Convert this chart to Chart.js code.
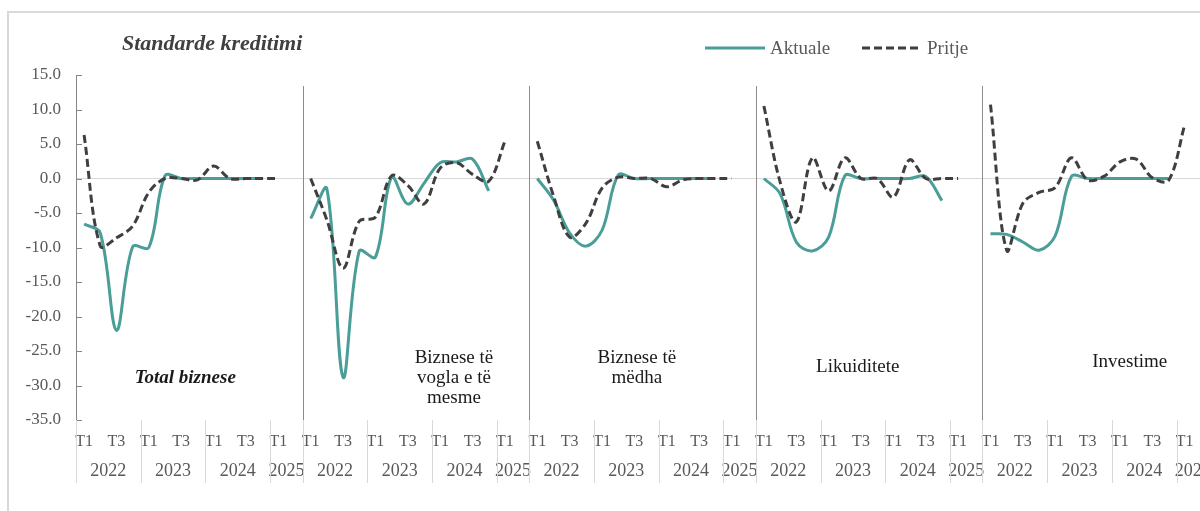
<!DOCTYPE html>
<html><head><meta charset="utf-8">
<script src="https://cdn.jsdelivr.net/npm/chart.js@4.4.1/dist/chart.umd.min.js"></script>
<style>
html,body{margin:0;padding:0;background:#fff;overflow:hidden;width:1200px;height:511px}
#wrap{position:absolute;left:0;top:0;width:1230px;height:511px}
</style></head><body>
<div id="wrap"><canvas id="c"></canvas></div>
<script>
// ---- categories ----
const quarterLabels = ['T1','T2','T3','T4','T1','T2','T3','T4','T1','T2','T3','T4','T1','T2'];
const yearLabels = ['2022','2023','2024','2025'];
const yearSpans = [4,4,4,2];
const panelNames = [['Total biznese'], ['Biznese të','vogla e të','mesme'], ['Biznese të','mëdha'], ['Likuiditete'], ['Investime']];
const seriesNames = ['Aktuale','Pritje'];
const chartTitle = 'Standarde kreditimi';

// ---- values (2022 T1 ...) ----
const aktualeTotal     = [-6.6, -7.9, -22.0, -9.9, -10.0, 0.4, 0, 0, 0, 0, 0, 0];
const pritjeTotal      = [6.3, -9.8, -8.6, -6.9, -2.0, 0.0, 0.0, -0.2, 1.8, 0.0, 0, 0, 0];
const aktualeSME       = [-5.8, -1.5, -28.8, -10.5, -11.4, 0.2, -3.7, -0.7, 2.3, 2.4, 2.8, -1.8];
const pritjeSME        = [0.0, -6.0, -13.0, -6.2, -5.6, 0.4, -1.0, -3.7, 1.5, 2.3, 0.6, -0.4, 5.4];
const aktualeLarge     = [0.0, -3.1, -7.9, -9.8, -7.5, 0.5, 0, 0, 0, 0, 0, 0];
const pritjeLarge      = [5.4, -2.5, -8.5, -6.5, -1.4, 0.2, 0, 0, -1.2, -0.2, 0, 0, 0];
const aktualeLiquidity = [0.0, -2.2, -9.2, -10.5, -8.5, 0.4, 0, 0, 0, 0, 0.3, -3.2];
const pritjeLiquidity  = [10.5, -0.5, -6.3, 3.0, -1.8, 3.0, 0, 0, -2.7, 2.7, 0, 0, 0];
const aktualeInvest    = [-8.0, -8.1, -9.2, -10.4, -8.3, 0.3, 0, 0, 0, 0, 0, 0];
const pritjeInvest     = [10.7, -10.4, -3.6, -2.0, -1.3, 3.0, -0.2, 0.3, 2.4, 2.8, 0.1, -0.3, 7.8];

// ---- y axis ----
const yMin = -35, yMax = 15, yStep = 5;

// ---- build data for the library ----
const aktualePanels = [aktualeTotal, aktualeSME, aktualeLarge, aktualeLiquidity, aktualeInvest];
const pritjePanels  = [pritjeTotal, pritjeSME, pritjeLarge, pritjeLiquidity, pritjeInvest];
const labels = [];
panelNames.forEach(() => labels.push(...quarterLabels));
const padPanel = arr => { const a = arr.slice(); while (a.length < quarterLabels.length) a.push(null); return a; };
const aktualeData = aktualePanels.flatMap(padPanel);
const pritjeData  = pritjePanels.flatMap(padPanel);

// ---- styles / annotation placement ----
const FONT = "'Liberation Serif', 'Times New Roman', serif";
const TEAL = '#4a9e97', DARK = '#3f3f3f', GREY_TXT = '#595959';
const SEP_TOP = 13.4;
const panelLabelPlacement = [ // [category position, value, bold italic]
  {x: 6.25, y: -28.9, bi: true},
  {x: 22.85, y: -28.9, bi: false},
  {x: 34.15, y: -27.4, bi: false},
  {x: 47.8, y: -27.3, bi: false},
  {x: 64.6, y: -26.6, bi: false}
];

const decor = {
  id: 'decor',
  beforeDatasetsDraw(chart) {
    const {ctx, scales: {x, y}, chartArea: a} = chart;
    const cw = (x.right - x.left) / labels.length;
    ctx.save();
    ctx.lineWidth = 1;
    ctx.strokeStyle = '#8c8c8c';
    for (let p = 1; p < panelNames.length; p++) {
      const xx = Math.round(x.left + p * quarterLabels.length * cw) + 0.5;
      ctx.beginPath(); ctx.moveTo(xx, y.getPixelForValue(SEP_TOP)); ctx.lineTo(xx, a.bottom); ctx.stroke();
    }
    ctx.strokeStyle = '#868686';
    y.ticks.forEach(t => {
      const yy = Math.round(y.getPixelForValue(t.value)) + 0.5;
      ctx.beginPath(); ctx.moveTo(a.left, yy); ctx.lineTo(a.left + 6, yy); ctx.stroke();
    });
    ctx.restore();
  },
  afterDraw(chart) {
    const {ctx, scales: {x, y}, chartArea: a} = chart;
    const cw = (x.right - x.left) / labels.length;
    const px = f => x.left + (f + 0.5) * cw;
    ctx.save();
    // year boundary lines and year labels
    ctx.strokeStyle = '#d9d9d9'; ctx.lineWidth = 1;
    ctx.fillStyle = GREY_TXT; ctx.font = '18px ' + FONT; ctx.textAlign = 'center'; ctx.textBaseline = 'middle';
    for (let p = 0; p < panelNames.length; p++) {
      let start = p * quarterLabels.length;
      const bounds = [start];
      yearSpans.forEach((s, k) => {
        ctx.fillText(yearLabels[k], x.left + (start + s / 2) * cw, 471);
        start += s; bounds.push(start);
      });
      bounds.forEach(b => {
        const xx = Math.round(x.left + b * cw) + 0.5;
        ctx.beginPath(); ctx.moveTo(xx, a.bottom); ctx.lineTo(xx, a.bottom + 63); ctx.stroke();
      });
    }
    // panel labels
    ctx.fillStyle = '#1a1a1a';
    panelNames.forEach((lines, i) => {
      const pl = panelLabelPlacement[i];
      ctx.font = (pl.bi ? 'italic bold ' : '') + '19px ' + FONT;
      const cx = px(pl.x), cy = y.getPixelForValue(pl.y);
      const lh = 20;
      lines.forEach((t, k) => ctx.fillText(t, cx, cy + (k - (lines.length - 1) / 2) * lh));
    });
    // title
    ctx.fillStyle = '#404040'; ctx.textAlign = 'left';
    ctx.font = 'italic bold 22px ' + FONT;
    ctx.fillText(chartTitle, 122, 44);
    // legend
    const items = [{x: 705, ds: chart.data.datasets[1]}, {x: 862, ds: chart.data.datasets[0]}];
    ctx.font = '19px ' + FONT;
    items.forEach(it => {
      ctx.strokeStyle = it.ds.borderColor; ctx.lineWidth = it.ds.borderWidth;
      ctx.setLineDash(it.ds.borderDash || []);
      ctx.beginPath(); ctx.moveTo(it.x, 48); ctx.lineTo(it.x + 60, 48); ctx.stroke();
      ctx.setLineDash([]);
      ctx.fillStyle = GREY_TXT; ctx.fillText(it.ds.label, it.x + 65, 49);
    });
    // frame
    ctx.strokeStyle = '#d9d9d9'; ctx.lineWidth = 2;
    ctx.beginPath(); ctx.moveTo(8, chart.height); ctx.lineTo(8, 12); ctx.lineTo(chart.width, 12); ctx.stroke();
    ctx.restore();
  }
};

new Chart(document.getElementById('c'), {
  type: 'line',
  data: {
    labels,
    datasets: [
      {label: seriesNames[1], data: pritjeData, borderColor: DARK, borderWidth: 3, borderDash: [8, 4],
       tension: 0.35, pointRadius: 0, fill: false, spanGaps: false, order: 0},
      {label: seriesNames[0], data: aktualeData, borderColor: TEAL, borderWidth: 3,
       tension: 0.35, pointRadius: 0, fill: false, spanGaps: false, order: 1}
    ]
  },
  options: {
    responsive: true, maintainAspectRatio: false, animation: false,
    layout: {padding: {left: 0, right: 21, top: 75, bottom: 0}},
    plugins: {legend: {display: false}, tooltip: {enabled: false}, title: {display: false}},
    scales: {
      x: {
        type: 'category', offset: true,
        grid: {display: false, drawTicks: false}, border: {display: false},
        ticks: {autoSkip: false, maxRotation: 0, minRotation: 0, padding: 12, color: GREY_TXT,
                font: {family: FONT, size: 16},
                callback(v, i) { return i % 2 === 0 ? this.getLabelForValue(v) : ''; }},
        afterFit(s) { s.height = 91; }
      },
      y: {
        min: yMin, max: yMax,
        ticks: {stepSize: yStep, padding: 15, color: GREY_TXT, font: {family: FONT, size: 17},
                callback: v => Number(v).toFixed(1)},
        grid: {drawTicks: false, lineWidth: 1,
               color: c => (c.tick && c.tick.value === 0) ? '#d9d9d9' : 'rgba(0,0,0,0)'},
        border: {display: true, color: '#868686'},
        afterFit(s) { s.width = 76; }
      }
    }
  },
  plugins: [decor]
});
</script>
</body></html>
